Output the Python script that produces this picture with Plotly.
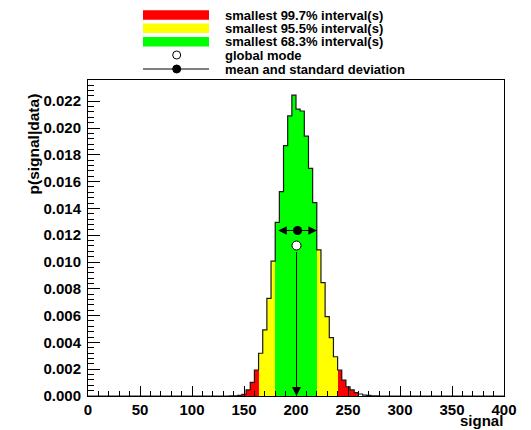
import numpy as np
import plotly.graph_objects as go

# ---------------- data ----------------
bin_width = 4
x_min, x_max = 0, 400
first_nonzero_bin = 136
density = [0.00001, 0.00002, 0.00004, 0.00013, 0.00045, 0.00102, 0.00194, 0.00319,
           0.00493, 0.00729, 0.01007, 0.01296, 0.01525, 0.01868, 0.02090, 0.02246,
           0.02141, 0.02127, 0.01940, 0.01699, 0.01443, 0.01090, 0.00846, 0.00592,
           0.00435, 0.00293, 0.00194, 0.00119, 0.00069, 0.00045, 0.00025, 0.00015,
           0.00007, 0.00004, 0.00002, 0.00001]
interval_683 = [180, 220]
interval_955 = [164, 240]
interval_997 = [148, 260]
mean_val = 201.5
std_val = 18.5
mode_val = 200.5
legend_labels = ["smallest 99.7% interval(s)", "smallest 95.5% interval(s)",
                 "smallest 68.3% interval(s)", "global mode", "mean and standard deviation"]
x_ticks = [0, 50, 100, 150, 200, 250, 300, 350, 400]
y_ticks = [0.000, 0.002, 0.004, 0.006, 0.008, 0.010, 0.012, 0.014, 0.016, 0.018, 0.020, 0.022]

# ---------------- build histogram ----------------
edges = np.arange(x_min, x_max + bin_width, bin_width)
nb = len(edges) - 1
values = np.zeros(nb)
i0 = (first_nonzero_bin - x_min) // bin_width
values[i0:i0 + len(density)] = density
centers = edges[:-1] + bin_width / 2

RED, YEL, GRN = "#ff0000", "#ffff00", "#00ff00"
colors = []
for c in centers:
    if interval_683[0] <= c < interval_683[1]:
        colors.append(GRN)
    elif interval_955[0] <= c < interval_955[1]:
        colors.append(YEL)
    elif interval_997[0] <= c < interval_997[1]:
        colors.append(RED)
    else:
        colors.append("rgba(0,0,0,0)")

peak = values.max()
ymax = peak * 1.05
mean_y = 0.55 * peak
mode_y = 0.50 * peak

# page body has an 8px margin, so the figure is shifted by OFF
OFF = 8
W, H = 531 - OFF, 430 - OFF
L, T = 88 - OFF, 80 - OFF
pw, ph = 416, 316
R, B = W - L - pw, H - T - ph

def px(xp):
    return (xp - OFF - L) / pw

def py(yp):
    return (T + ph - (yp - OFF)) / ph

FONT = "Liberation Sans, Arial, Helvetica, sans-serif"

fig = go.Figure()
fig.add_trace(go.Bar(x=centers, y=values, width=bin_width,
                     marker=dict(color=colors, line=dict(width=0)),
                     showlegend=False, hoverinfo="skip"))
fig.add_trace(go.Scatter(x=list(edges), y=list(values) + [values[-1]],
                         mode="lines", line=dict(shape="hv", color="#1a1a1a", width=1.2),
                         showlegend=False, hoverinfo="skip"))

# mode marker (open circle)
fig.add_trace(go.Scatter(x=[mode_val], y=[mode_y], mode="markers",
                         marker=dict(symbol="circle", size=9, color="white",
                                     line=dict(color="black", width=1)),
                         showlegend=False, hoverinfo="skip"))
# mean marker
fig.add_trace(go.Scatter(x=[mean_val], y=[mean_y], mode="markers",
                         marker=dict(symbol="circle", size=9, color="black"),
                         showlegend=False, hoverinfo="skip"))

ann = []
for xe in (mean_val - std_val, mean_val + std_val):
    ann.append(dict(x=xe, y=mean_y, ax=mean_val, ay=mean_y, xref="x", yref="y",
                    axref="x", ayref="y", showarrow=True, arrowhead=2, arrowsize=1.4,
                    arrowwidth=1.2, arrowcolor="black", text=""))
ann.append(dict(x=mode_val, y=0, ax=mode_val, ay=mode_y, xref="x", yref="y",
                axref="x", ayref="y", showarrow=True, arrowhead=2, arrowsize=1.8,
                arrowwidth=1.0, arrowcolor="black", startstandoff=5, text=""))

# legend
row_y = [15, 28.3, 41.7, 55, 69]
shapes = []
for k, col in enumerate([RED, YEL, GRN]):
    shapes.append(dict(type="rect", xref="paper", yref="paper",
                       x0=px(143), x1=px(209), y0=py(row_y[k] + 4.7), y1=py(row_y[k] - 4.7),
                       fillcolor=col, line=dict(width=0)))
shapes.append(dict(type="circle", xref="paper", yref="paper", xsizemode="pixel", ysizemode="pixel",
                   xanchor=px(176.7), yanchor=py(row_y[3]), x0=-4, x1=4, y0=-4, y1=4,
                   fillcolor="white", line=dict(color="black", width=1)))
shapes.append(dict(type="line", xref="paper", yref="paper",
                   x0=px(143), x1=px(209), y0=py(row_y[4]), y1=py(row_y[4]),
                   line=dict(color="black", width=1)))
shapes.append(dict(type="circle", xref="paper", yref="paper", xsizemode="pixel", ysizemode="pixel",
                   xanchor=px(176.7), yanchor=py(row_y[4]), x0=-4, x1=4, y0=-4, y1=4,
                   fillcolor="black", line=dict(color="black", width=1)))
for k, lab in enumerate(legend_labels):
    ann.append(dict(x=px(223), y=py(row_y[k]), xref="paper", yref="paper", text=lab,
                    showarrow=False, xanchor="left", yanchor="middle",
                    font=dict(family=FONT, size=13, color="black", weight="bold")))

# axis titles
ann.append(dict(x=px(33), y=py(92), xref="paper", yref="paper", text="p(signal|data)",
                showarrow=False, textangle=-90, xanchor="center", yanchor="top",
                font=dict(family=FONT, size=15.5, color="black", weight="bold")))
ann.append(dict(x=px(504), y=py(420.5), xref="paper", yref="paper", text="signal",
                showarrow=False, xanchor="right", yanchor="middle", borderpad=0,
                font=dict(family=FONT, size=15, color="black", weight="bold")))

fig.update_layout(
    width=W, height=H, margin=dict(l=L, r=R, t=T, b=B),
    paper_bgcolor="white", plot_bgcolor="white",
    bargap=0, barmode="overlay", showlegend=False,
    annotations=ann, shapes=shapes,
    xaxis=dict(range=[x_min, x_max], tickvals=x_ticks, ticktext=[str(v) for v in x_ticks],
               ticks="inside", ticklen=10, tickwidth=1, tickcolor="black",
               minor=dict(dtick=10, tick0=0, ticks="inside", ticklen=5, tickcolor="black"),
               showline=True, linecolor="black", linewidth=1, mirror=True,
               showgrid=False, zeroline=False,
               tickfont=dict(family=FONT, size=15, color="black", weight="bold")),
    yaxis=dict(range=[0, ymax], tickvals=y_ticks, ticktext=["%.3f" % v for v in y_ticks],
               ticks="inside", ticklen=12, tickwidth=1, tickcolor="black",
               minor=dict(dtick=0.0004, tick0=0, ticks="inside", ticklen=6, tickcolor="black"),
               showline=True, linecolor="black", linewidth=1, mirror=True,
               showgrid=False, zeroline=False, ticklabelstandoff=3,
               tickfont=dict(family=FONT, size=15, color="black", weight="bold")),
)

fig.write_html("out.html")
